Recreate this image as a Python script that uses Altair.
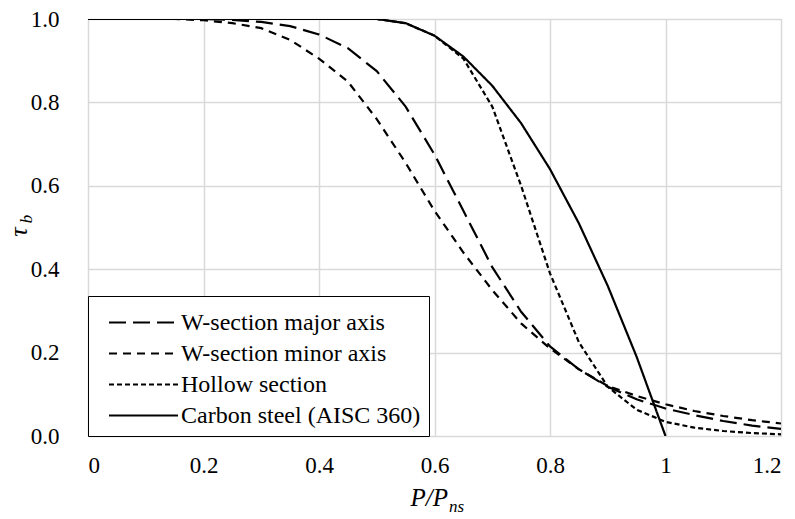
import altair as alt
import pandas as pd

# ---- data ----
x_major = [0.0, 0.1, 0.2, 0.25, 0.3, 0.35, 0.4, 0.45, 0.5, 0.55, 0.6, 0.65, 0.7, 0.75, 0.8, 0.85, 0.9, 0.95, 1.0, 1.05, 1.1, 1.15, 1.2]
y_major = [1.0, 1.0, 1.0, 0.998, 0.993, 0.983, 0.963, 0.93, 0.875, 0.79, 0.675, 0.54, 0.405, 0.298, 0.215, 0.16, 0.118, 0.088, 0.066, 0.05, 0.036, 0.025, 0.017]

x_minor = [0.0, 0.1, 0.15, 0.2, 0.25, 0.3, 0.35, 0.4, 0.45, 0.5, 0.55, 0.6, 0.65, 0.7, 0.75, 0.8, 0.85, 0.9, 0.95, 1.0, 1.05, 1.1, 1.15, 1.2]
y_minor = [1.0, 1.0, 1.0, 0.997, 0.99, 0.978, 0.95, 0.905, 0.85, 0.76, 0.655, 0.54, 0.44, 0.35, 0.27, 0.21, 0.16, 0.12, 0.096, 0.076, 0.06, 0.048, 0.038, 0.03]

x_hollow = [0.0, 0.2, 0.4, 0.5, 0.55, 0.6, 0.65, 0.7, 0.75, 0.8, 0.85, 0.9, 0.95, 1.0, 1.05, 1.1, 1.15, 1.2]
y_hollow = [1.0, 1.0, 1.0, 1.0, 0.99, 0.96, 0.905, 0.79, 0.6, 0.39, 0.225, 0.118, 0.063, 0.034, 0.02, 0.012, 0.007, 0.004]

x_carbon = [0.0, 0.2, 0.4, 0.5, 0.55, 0.6, 0.65, 0.7, 0.75, 0.8, 0.85, 0.9, 0.95, 1.0]
y_carbon = [1.0, 1.0, 1.0, 1.0, 0.99, 0.96, 0.91, 0.84, 0.75, 0.64, 0.51, 0.36, 0.19, 0.0]

series_names = ["W-section major axis", "W-section minor axis", "Hollow section", "Carbon steel (AISC 360)"]
dash_styles = [[17, 7], [8, 6], [5, 3], [1, 0]]

x_ticks = [0, 0.2, 0.4, 0.6, 0.8, 1.0, 1.2]
y_ticks = [0, 0.2, 0.4, 0.6, 0.8, 1.0]

rows = []
for name, xs, ys in zip(series_names,
                        [x_major, x_minor, x_hollow, x_carbon],
                        [y_major, y_minor, y_hollow, y_carbon]):
    for i, (a, b) in enumerate(zip(xs, ys)):
        rows.append({"series": name, "x": a, "y": b, "order": i})
df = pd.DataFrame(rows)

FONT = "Liberation Serif, Times New Roman, serif"
W, H = 693, 417

lines = alt.Chart(df).mark_line(color="black", strokeWidth=2.2, clip=True).encode(
    x=alt.X("x:Q", scale=alt.Scale(domain=[0, 1.2], nice=False),
            axis=alt.Axis(values=x_ticks, format="~g", title=None, ticks=False, domain=False,
                          labelFont=FONT, labelFontSize=23, labelColor="black", labelPadding=18,
                          gridColor="#d9d9d9", gridWidth=1.5)),
    y=alt.Y("y:Q", scale=alt.Scale(domain=[0, 1.0], nice=False),
            axis=alt.Axis(values=y_ticks, format=".1f", title=None, ticks=False, domain=False,
                          labelFont=FONT, labelFontSize=23, labelColor="black", labelPadding=29,
                          gridColor="#d9d9d9", gridWidth=1.5)),
    strokeDash=alt.StrokeDash("series:N",
        scale=alt.Scale(domain=series_names, range=dash_styles),
        sort=series_names,
        legend=alt.Legend(title=None, orient="bottom-left", offset=0,
                          labelFont=FONT, labelFontSize=24, labelColor="black", labelLimit=400,
                          symbolType="M-2,0H2", symbolSize=1190, symbolStrokeWidth=2.2,
                          symbolStrokeColor="black", symbolFillColor="transparent", symbolOffset=29,
                          strokeColor="black", fillColor="white", padding=8,
                          rowPadding=0, labelOffset=19)),
    order="order:Q",
)

xt1 = alt.Chart(pd.DataFrame({"t": ["P/P"]})).mark_text(
    font=FONT, fontSize=25, fontStyle="italic", align="right", baseline="alphabetic", color="black"
).encode(text="t:N", x=alt.value(360), y=alt.value(487))
xt2 = alt.Chart(pd.DataFrame({"t": ["ns"]})).mark_text(
    font=FONT, fontSize=17, fontStyle="italic", align="left", baseline="alphabetic", color="black"
).encode(text="t:N", x=alt.value(361), y=alt.value(493))

yt1 = alt.Chart(pd.DataFrame({"t": ["τ"]})).mark_text(
    font=FONT, fontSize=26, fontStyle="italic", align="center", baseline="alphabetic", color="black", angle=270
).encode(text="t:N", x=alt.value(-61), y=alt.value(213))
yt2 = alt.Chart(pd.DataFrame({"t": ["b"]})).mark_text(
    font=FONT, fontSize=17, fontStyle="italic", align="center", baseline="alphabetic", color="black", angle=270
).encode(text="t:N", x=alt.value(-56), y=alt.value(200))

chart = alt.layer(lines, xt1, xt2, yt1, yt2).properties(
    width=W, height=H,
    autosize=alt.AutoSizeParams(type="none"),
    padding={"left": 88, "top": 19, "right": 14, "bottom": 83},
).configure_view(stroke="black", strokeWidth=2.2).configure(background="white")

chart.save("out.html", embed_options={"renderer": "svg", "actions": False})
